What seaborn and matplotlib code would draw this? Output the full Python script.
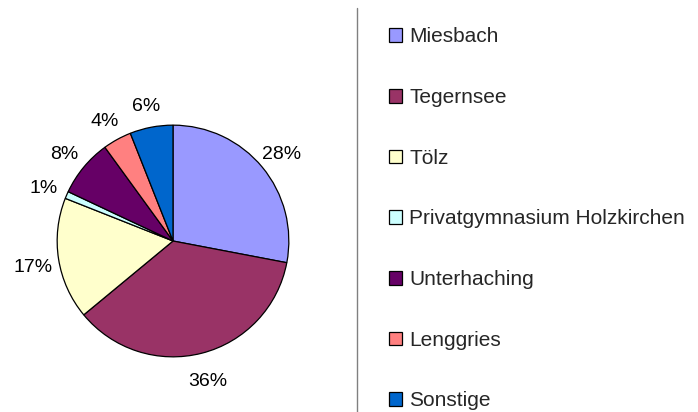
import seaborn as sns
import matplotlib.pyplot as plt
import matplotlib.transforms as mtransforms
from matplotlib.lines import Line2D

# data
schools = ["Miesbach", "Tegernsee", "Tölz", "Privatgymnasium Holzkirchen",
           "Unterhaching", "Lenggries", "Sonstige"]
shares = [28, 36, 17, 1, 8, 4, 6]
colors = ["#9999FF", "#993366", "#FFFFCC", "#CCFFFF", "#660066", "#FF8080", "#0066CC"]

sns.set_theme(style="white")
plt.rcParams['font.family'] = ['Liberation Sans', 'DejaVu Sans']

fig = plt.figure(figsize=(6.98, 4.12), dpi=100)
ax = fig.add_axes([56 / 698, 54 / 412, 234 / 698, 234 / 412])

wedges, texts, autotexts = ax.pie(
    shares, colors=sns.color_palette(colors), startangle=90, counterclock=False,
    autopct="%1.0f%%", pctdistance=1.22, radius=1,
    wedgeprops=dict(edgecolor="black", linewidth=0.9),
    textprops=dict(fontsize=14, color="black"))
# excel puts the labels a touch lower
shift = mtransforms.ScaledTranslation(0, -4 / 100, fig.dpi_scale_trans)
for t in autotexts:
    t.set_transform(t.get_transform() + shift)
ax.set_xlim(-1.01, 1.01)
ax.set_ylim(-1.01, 1.01)
ax.set_aspect("equal")
ax.axis("off")

# divider line
fig.add_artist(Line2D([357 / 698, 357 / 698], [1 - 8 / 412, 0], color="#808080", linewidth=1))

fig.legend(wedges, schools, loc="upper left", bbox_to_anchor=(389 / 698, 1 - 27.5 / 412),
           frameon=False, fontsize=15, handlelength=0.625, handleheight=0.625,
           handletextpad=0.34, labelspacing=2.0, borderpad=0, borderaxespad=0)

plt.savefig("out.png", dpi=100)
